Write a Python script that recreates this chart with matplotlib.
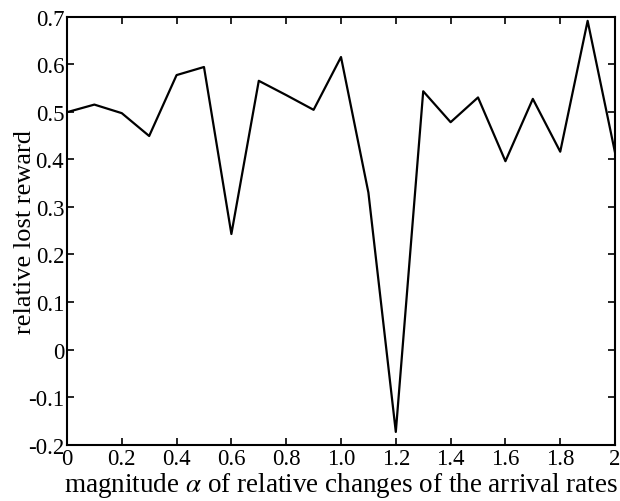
import matplotlib
matplotlib.use('Agg')
import matplotlib.pyplot as plt

# magnitude alpha of relative changes and the relative lost reward
alpha = [0.0, 0.1, 0.2, 0.3, 0.4, 0.5, 0.6, 0.7, 0.8, 0.9, 1.0,
         1.1, 1.2, 1.3, 1.4, 1.5, 1.6, 1.7, 1.8, 1.9, 2.0]
lost_reward = [0.499, 0.515, 0.497, 0.449, 0.577, 0.594, 0.243, 0.565, 0.535, 0.504, 0.615,
               0.330, -0.173, 0.543, 0.478, 0.530, 0.396, 0.527, 0.416, 0.691, 0.414]

x_ticks = [0, 0.2, 0.4, 0.6, 0.8, 1.0, 1.2, 1.4, 1.6, 1.8, 2]
x_tick_labels = ['0', '0.2', '0.4', '0.6', '0.8', '1.0', '1.2', '1.4', '1.6', '1.8', '2']
y_ticks = [-0.2, -0.1, 0, 0.1, 0.2, 0.3, 0.4, 0.5, 0.6, 0.7]
y_tick_labels = ['-0.2', '-0.1', '0', '0.1', '0.2', '0.3', '0.4', '0.5', '0.6', '0.7']

plt.rcParams['font.family'] = ['Liberation Serif', 'DejaVu Serif']
plt.rcParams['mathtext.fontset'] = 'stix'

fig = plt.figure(figsize=(6.2, 5.02), dpi=100)
ax = fig.add_axes([0.108, 0.112, 0.884, 0.853])

ax.plot(alpha, lost_reward, color='black', linewidth=1.6)

ax.set_xlim(0, 2)
ax.set_ylim(-0.2, 0.7)
ax.set_xticks(x_ticks)
ax.set_xticklabels(x_tick_labels)
ax.set_yticks(y_ticks)
ax.set_yticklabels(y_tick_labels)

ax.tick_params(direction='in', length=5, width=1.2, top=True, right=True,
               labelsize=16.5, pad=2)
for s in ax.spines.values():
    s.set_linewidth(1.5)

ax.set_xlabel(r'magnitude $\alpha$ of relative changes of the arrival rates',
              fontsize=19.5, labelpad=1)
ax.set_ylabel('relative lost reward', fontsize=19, labelpad=-6)

fig.savefig('out.png', dpi=100)
